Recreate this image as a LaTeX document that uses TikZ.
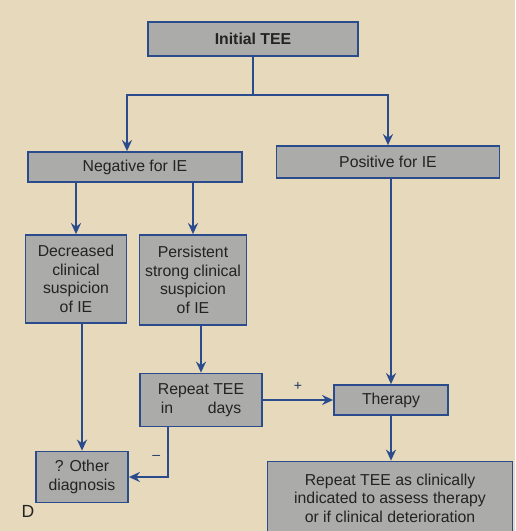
\documentclass[tikz,border=0pt]{standalone}
\usepackage{fontspec}
\setmainfont{Liberation Sans}
\usepackage{tikz}
\usetikzlibrary{
  arrows.meta,
  positioning,
  calc
}
\definecolor{fcPaper}{HTML}{E6D9BC}
\definecolor{fcFill}{HTML}{ABABAA}
\definecolor{fcLine}{HTML}{2B4C8C}
\definecolor{fcText}{HTML}{232323}
\tikzset{
  fcnode/.style={
    draw=fcLine, fill=fcFill, line width=1pt, inner sep=0pt,
    font=\fontsize{9}{10.5}\selectfont, text=fcText, align=center
  },
  fcbox/.style={fcnode},
  fcline/.style={line width=1pt, fcLine},
  fcarrow/.style={fcline, -{Stealth[length=2.2mm, width=2mm]}},
  fcsign/.style={font=\fontsize{8}{9}\selectfont, text=fcLine!70!black, inner sep=1pt}
}

\begin{document}
\begin{tikzpicture}[x=0.02cm, y=-0.02cm]
  \useasboundingbox (0,0) rectangle (515,531);
  \clip (0,0) rectangle (515,531);
  \fill[fcPaper] (0,0) rectangle (515,531);

  \node[fcbox, minimum width=4.2cm, minimum height=0.68cm, font=\fontsize{9}{10.5}\selectfont\bfseries] (init) at (253,39) {Initial TEE};
  \node[fcbox, minimum width=4.28cm, minimum height=0.6cm] (neg) at (135,167) {Negative for IE};
  \node[fcbox, minimum width=4.46cm, minimum height=0.64cm] (pos) at (388,162) {Positive for IE};
  \node[fcbox, minimum width=2.02cm, minimum height=1.76cm] (dec) at (76,279) {Decreased\\clinical\\suspicion\\of IE};
  \node[fcbox, minimum width=2.14cm, minimum height=1.8cm] (pers) at (193,280) {Persistent\\strong clinical\\suspicion\\of IE};
  \node[fcbox, minimum width=2.44cm, minimum height=1.06cm] (rep) at (201,400) {Repeat TEE\\in\hspace{2.2em}days};
  \node[fcbox, minimum width=2.28cm, minimum height=0.6cm] (ther) at (391,400) {Therapy};
  \node[fcbox, minimum width=1.84cm, minimum height=1.02cm] (oth) at (82,477) {? Other\\diagnosis};
  \node[fcbox, minimum width=4.9cm, minimum height=1.46cm] (fin) at (390,498) {Repeat TEE as clinically\\indicated to assess therapy\\or if clinical deterioration};
  \node[font=\fontsize{10}{12}\selectfont, text=fcText] (lbl) at (28,511) {D};

  % split below the first test
  \coordinate (split) at (253,95);
  \draw[fcline] (init) -- (split);
  \draw[fcarrow] (split) -| ([xshift=-0.16cm]neg.north);
  \draw[fcarrow] (split) -| (pos.north);

  \draw[fcarrow] (dec.north |- neg.south) -- (dec);
  \draw[fcarrow] (pers.north |- neg.south) -- (pers);
  \draw[fcarrow] (oth.north |- dec.south) -- (oth);
  \draw[fcarrow] (rep.north |- pers.south) -- (rep);
  \draw[fcarrow] (rep) -- (ther) node[fcsign, midway, above=4pt] {+};
  \draw[fcarrow] ([xshift=-0.66cm]rep.south) |- (oth.east) node[fcsign, pos=0.3, left=3pt] {--};
  \draw[fcarrow] (ther.north |- pos.south) -- (ther);
  \draw[fcarrow] (ther) -- (ther.south |- fin.north);
\end{tikzpicture}
\end{document}
